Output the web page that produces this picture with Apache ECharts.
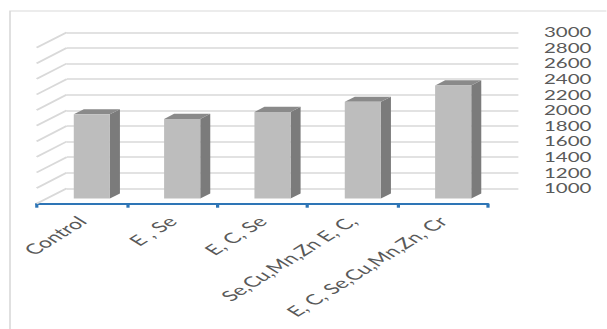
<!DOCTYPE html>
<html>
<head>
<meta charset="utf-8">
<script src="https://cdn.jsdelivr.net/npm/echarts@6/dist/echarts.min.js"></script>
<style>
html,body{margin:0;padding:0;background:#fff;overflow:hidden;}
#wrap{width:607px;height:329px;overflow:hidden;position:relative;}
#c{width:379.4px;height:329px;transform:scaleX(1.6);transform-origin:0 0;position:absolute;left:0;top:0;}
</style>
</head>
<body>
<div id="wrap"><div id="c"></div></div>
<script>
// ---- data ----
const categories = ['Control', 'E , Se', 'E, C, Se', 'Se,Cu,Mn,Zn E, C,', 'E, C, Se,Cu,Mn,Zn, Cr'];
const values = [2080, 2020, 2110, 2240, 2450];
const yTicks = [1000, 1200, 1400, 1600, 1800, 2000, 2200, 2400, 2600, 2800, 3000];

// ---- 3D look (chart-space pixels) ----
const DX = 18.8, DY = 15.4; // back wall -> front edge offset
const yMin = yTicks[0], yMax = yTicks[yTicks.length - 1], yStep = yTicks[1] - yTicks[0];

const chart = echarts.init(document.getElementById('c'), null, {renderer: 'svg'});

function renderBar(params, api) {
  const i = api.value(0), v = api.value(1);
  const top = api.coord([i, v]);
  const base = api.coord([i, yMin]);
  const w = api.size([1, 0])[0] * 0.4;
  const fx = -DX * 2 / 3, fy = DY * 2 / 3;
  const dx = DX / 3, dy = -DY / 3;
  const x0 = top[0] - w / 2 + fx, x1 = x0 + w;
  const yT = top[1] + fy, yB = base[1] + fy;
  return {
    type: 'group',
    children: [
      {type: 'polygon', shape: {points: [[x1, yT], [x1 + dx, yT + dy], [x1 + dx, yB + dy], [x1, yB]]},
       style: {fill: '#7b7b7b'}},
      {type: 'polygon', shape: {points: [[x0, yT], [x0 + dx, yT + dy], [x1 + dx, yT + dy], [x1, yT]]},
       style: {fill: '#8a8a8a'}},
      {type: 'rect', shape: {x: x0, y: yT, width: w, height: yB - yT},
       style: {fill: '#bdbdbd'}}
    ]
  };
}

function renderSide(params, api) {
  const cs = params.coordSys;
  const p = api.coord([0, api.value(0)]);
  return {
    type: 'line',
    shape: {x1: cs.x, y1: p[1], x2: cs.x - DX, y2: p[1] + DY},
    style: {stroke: '#d9d9d9', lineWidth: 1.6}
  };
}

chart.setOption({
  animation: false,
  backgroundColor: '#ffffff',
  graphic: [{
    type: 'rect', silent: true,
    shape: {x: 6.25, y: 11, width: 500, height: 500},
    style: {fill: 'none', stroke: '#d9d9d9', lineWidth: 1}
  }],
  grid: [
    {left: 41.7, right: 55, top: 32.3, bottom: 140.7},
    {left: 22.9, right: 74.2, top: 47.7, bottom: 125.3}
  ],
  xAxis: [
    {type: 'category', gridIndex: 0, data: categories, show: false},
    {type: 'category', gridIndex: 1, data: categories,
     axisLine: {show: true, lineStyle: {color: '#2e75b6', width: 2}},
     axisTick: {show: true, length: 4, lineStyle: {color: '#2e75b6', width: 2}},
     axisLabel: {rotate: 45, margin: 15, interval: 0, color: '#595959',
                 fontFamily: 'Lato', fontSize: 14.5}}
  ],
  yAxis: [
    {type: 'value', gridIndex: 0, position: 'right', min: yMin, max: yMax, interval: yStep,
     axisLine: {show: false}, axisTick: {show: false},
     axisLabel: {margin: 16, color: '#595959', fontFamily: 'Lato', fontSize: 12.8,
                 lineHeight: 12, formatter: v => String(v)},
     splitLine: {show: true, lineStyle: {color: '#d9d9d9', width: 1.6}}},
    {type: 'value', gridIndex: 1, min: yMin, max: yMax, interval: yStep, show: false,
     splitLine: {show: false}}
  ],
  series: [
    {type: 'custom', xAxisIndex: 0, yAxisIndex: 0, renderItem: renderSide,
     data: yTicks.map(t => [t]), encode: {y: 0}, silent: true, clip: false},
    {type: 'custom', xAxisIndex: 0, yAxisIndex: 0, renderItem: renderBar,
     data: values.map((v, i) => [i, v]), encode: {x: 0, y: 1}, clip: false}
  ]
});
</script>
</body>
</html>
